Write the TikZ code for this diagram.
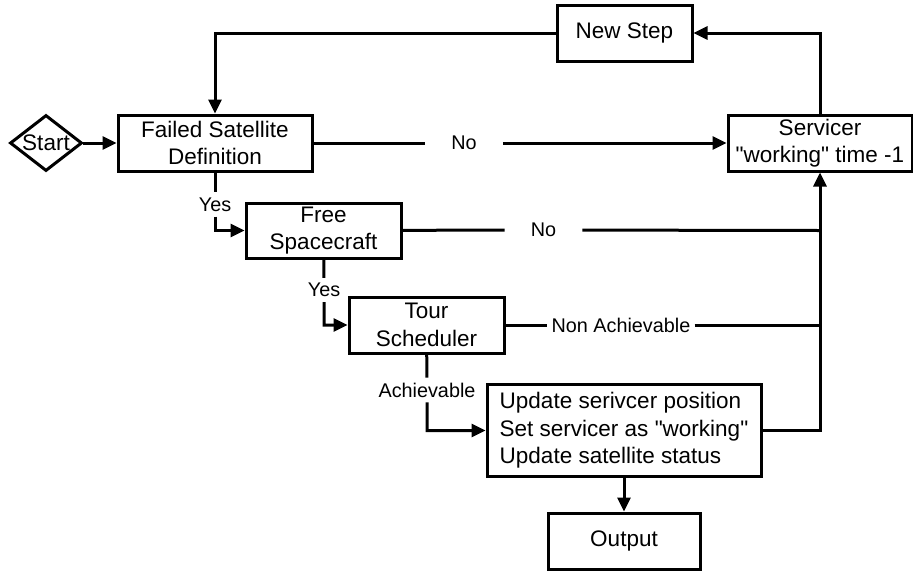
\documentclass[tikz,border=0pt]{standalone}
\usepackage{fontspec}
\setmainfont{Liberation Sans}
\usetikzlibrary{arrows.meta,shapes.geometric}
\tikzset{
  box/.style={draw, line width=3pt, align=center, inner sep=2pt,
    font=\fontsize{22.5}{27.5}\selectfont},
  lbl/.style={inner xsep=2pt, inner ysep=5pt,
    font=\fontsize{19.8}{24}\selectfont},
  wire/.style={line width=3pt},
  flow/.style={wire, -{Triangle[length=14pt,width=13pt]}},
}
\begin{document}
\begin{tikzpicture}[x=1pt,y=-1pt]
      \useasboundingbox (0,0) rectangle (913,571);
      \node[box, diamond, inner sep=-4pt, minimum width=72pt, minimum height=56pt] (start) at (46,143) {Start};
      \node[box, minimum width=194pt, minimum height=56pt] (fsd) at (215,143) {Failed Satellite\\Definition};
      \node[box, minimum width=135pt, minimum height=56pt] (newstep) at (624.5,33) {New Step};
      \node[box, minimum width=184pt, minimum height=56pt] (serv) at (820,143)
        {Servicer\\\textquotedbl working\textquotedbl{} time -1};
      \node[box, minimum width=155pt, minimum height=55pt] (free) at (323.5,230.5) {Free\\Spacecraft};
      \node[box, minimum width=155pt, minimum height=56pt] (tour) at (426.5,325) {Tour\\Scheduler};
      \node[box, align=left, minimum width=274pt, minimum height=92pt] (update) at (624,430.5)
        {Update serivcer position\\Set servicer as \textquotedbl working\textquotedbl\\Update satellite status};
      \node[box, minimum width=152pt, minimum height=56pt] (output) at (624,541) {Output};

      \node[lbl, inner xsep=26pt] (no1) at (464,143) {No};
      \node[lbl, inner xsep=26pt] (no2) at (543.5,230) {No};
      \node[lbl, inner xsep=4pt] (nonach) at (621,325) {Non Achievable};
      \node[lbl] (yes1) at (215,204.5) {Yes};
      \node[lbl] (yes2) at (324,290) {Yes};
      \node[lbl] (ach) at (427,390) {Achievable};

      \coordinate (j1) at (serv.south |- free.east);
      \coordinate (j2) at (serv.south |- tour.east);

      \draw[flow] (start) -- (fsd);
      \draw[flow] (fsd) -- (no1) -- (serv);
      \draw[flow] (fsd) -- (yes1) |- (free);
      \draw[wire] (free) -- (no2) -- (j1);
      \draw[flow] (free) -- (yes2) |- (tour);
      \draw[wire] (tour) -- (nonach) -- (j2);
      \draw[flow] (tour) -- (ach) |- (update);
      \draw[flow] (update) -| (serv.south);
      \draw[flow] (update) -- (output);
      \draw[flow] (serv.north) |- (newstep);
      \draw[flow] (newstep) -| (fsd.north);
    \end{tikzpicture}
\end{document}
